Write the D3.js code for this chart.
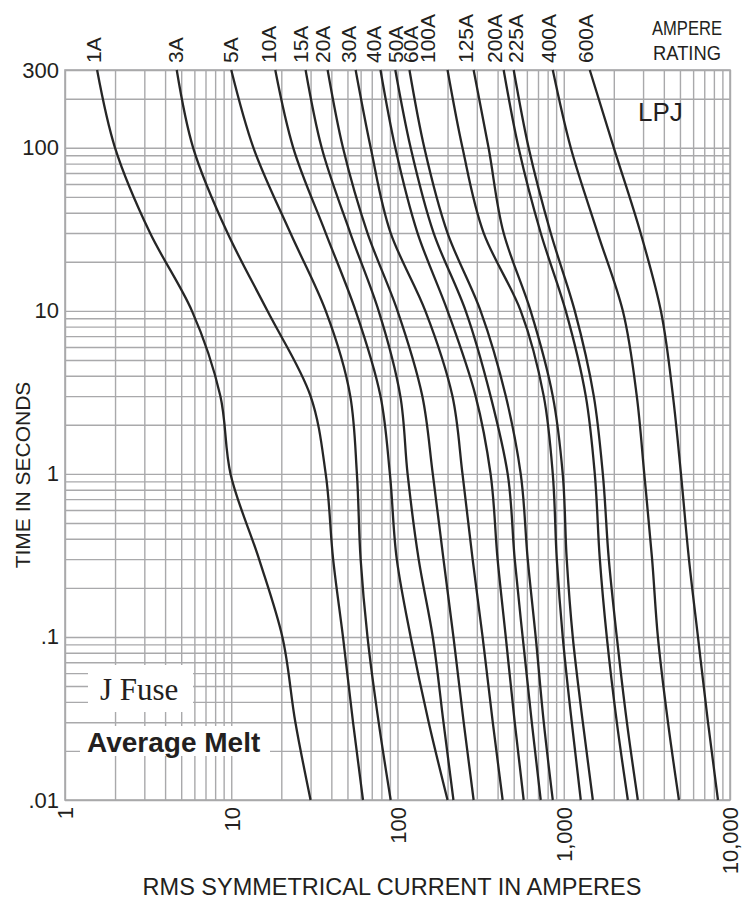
<!DOCTYPE html>
<html>
<head>
<meta charset="utf-8">
<script src="https://cdn.jsdelivr.net/npm/d3@7"></script>
<style>
body { margin: 0; background: #fff; }
text { font-family: "Liberation Sans", Arial, sans-serif; fill: #231f20; }
</style>
</head>
<body>
<div id="svg-container"></div>
<script>
// melt times (s) at which each curve was read
const times = [300, 100, 30, 10, 3, 1, 0.3, 0.1, 0.03, 0.01];

const ratings = ["1A", "3A", "5A", "10A", "15A", "20A", "30A", "40A", "50A", "60A",
                 "100A", "125A", "200A", "225A", "400A", "600A"];

// current (A) at each of the times above
const amps1A   = [1.56, 2.0, 3.25, 5.8, 8.6, 9.9, 14.7, 20.3, 24.3, 30];
const amps3A   = [4.7, 5.9, 9.5, 16.5, 30, 37, 41, 47, 54, 62];
const amps5A   = [10, 13.6, 22.7, 37, 52, 57, 60, 66, 77, 91];
const amps10A  = [18.4, 23.6, 37, 56, 79, 90, 99, 120, 154, 200];
const amps15A  = [28, 35, 52, 77, 104, 115, 134, 163, 189, 217];
const amps20A  = [38, 47, 66, 100, 141, 163, 189, 217, 250, 287];
const amps30A  = [56, 69, 91, 147, 214, 246, 283, 325, 374, 429];
const amps40A  = [79, 97, 132, 200, 295, 363, 400, 448, 507, 574];
const amps50A  = [97, 120, 165, 257, 363, 460, 507, 566, 642, 727];
const amps60A  = [118, 145, 200, 316, 448, 551, 607, 678, 758, 859];
const amps100A = [200, 246, 330, 551, 758, 859, 908, 986, 1117, 1266];
const amps125A = [287, 353, 435, 632, 859, 986, 1042, 1133, 1302, 1496];
const amps200A = [435, 535, 727, 1028, 1357, 1537, 1648, 1815, 2085, 2430];
const amps225A = [500, 615, 835, 1165, 1516, 1718, 1866, 2085, 2397, 2790];
const amps400A = [859, 1102, 1600, 2266, 2750, 3050, 3400, 3683, 4234, 4930];
const amps600A = [1434, 2001, 2900, 3838, 4539, 5070, 5663, 6416, 7370, 8465];

const curves = [amps1A, amps3A, amps5A, amps10A, amps15A, amps20A, amps30A, amps40A,
                amps50A, amps60A, amps100A, amps125A, amps200A, amps225A, amps400A, amps600A];

// current under which each rating label stands at the top
const labelAmps = [1.48, 4.6, 9.9, 16.7, 26, 35.3, 50.7, 72, 97, 120, 152, 257, 384, 514, 812, 1357];

const xTicks = [1, 10, 100, 1000, 10000];
const xTickLabels = ["1", "10", "100", "1,000", "10,000"];
const yTicks = [300, 100, 10, 1, 0.1, 0.01];
const yTickLabels = ["300", "100", "10", "1", ".1", ".01"];

const w = 743;
const h = 900;
const plotL = 65, plotR = 730, plotT = 70, plotB = 800;
const gridColor = "#a9a9ab";

const xScale = d3.scaleLog().domain([1, 10000]).range([plotL, plotR]);
const yScale = d3.scaleLog().domain([0.01, 300]).range([plotB, plotT]);

// log grid: 1..9 of every decade
let xGrid = [];
for (let k = 0; k < 4; k++) for (let m = 1; m < 10; m++) xGrid.push(m * Math.pow(10, k));
xGrid.push(10000);
let yGrid = [];
for (let k = -2; k < 2; k++) for (let m = 1; m < 10; m++) yGrid.push(+(m * Math.pow(10, k)).toPrecision(3));
yGrid.push(100, 200, 300);

const svg = d3.select("#svg-container")
    .append("svg")
    .attr("width", w)
    .attr("height", h);

svg.append("g")
    .attr("transform", "translate(0," + plotB + ")")
    .call(d3.axisBottom(xScale).tickValues(xGrid).tickSize(-(plotB - plotT)).tickFormat(""))
    .call(g => g.select(".domain").remove())
    .call(g => g.selectAll("line").attr("stroke", gridColor).attr("stroke-width", 1.4));

svg.append("g")
    .attr("transform", "translate(" + plotL + ",0)")
    .call(d3.axisLeft(yScale).tickValues(yGrid).tickSize(-(plotR - plotL)).tickFormat(""))
    .call(g => g.select(".domain").remove())
    .call(g => g.selectAll("line").attr("stroke", gridColor).attr("stroke-width", 1.4));

svg.append("rect")
    .attr("x", plotL).attr("y", plotT)
    .attr("width", plotR - plotL).attr("height", plotB - plotT)
    .attr("fill", "none").attr("stroke", gridColor).attr("stroke-width", 1.6);

// white boxes behind the two notes
svg.append("rect").attr("x", 88).attr("y", 665).attr("width", 105).attr("height", 47).attr("fill", "#fff");
svg.append("rect").attr("x", 80).attr("y", 726).attr("width", 190).attr("height", 30).attr("fill", "#fff");

const line = d3.line()
    .x(d => xScale(d[0]))
    .y(d => yScale(d[1]))
    .curve(d3.curveMonotoneY);

svg.selectAll("path.curve")
    .data(curves)
    .enter()
    .append("path")
    .attr("class", "curve")
    .attr("d", c => line(c.map((a, i) => [a, times[i]])))
    .attr("fill", "none")
    .attr("stroke", "#262626")
    .attr("stroke-width", 2.3);

// tick labels
svg.append("g")
    .attr("transform", "translate(" + plotL + ",0)")
    .call(d3.axisLeft(yScale).tickValues(yTicks).tickSize(0).tickPadding(6)
        .tickFormat((d, i) => yTickLabels[i]))
    .call(g => g.select(".domain").remove())
    .call(g => g.selectAll("text").style("font-size", "22px").attr("fill", "#231f20"));

svg.append("g")
    .attr("transform", "translate(0," + plotB + ")")
    .call(d3.axisBottom(xScale).tickValues(xTicks).tickSize(0)
        .tickFormat((d, i) => xTickLabels[i]))
    .call(g => g.select(".domain").remove())
    .call(g => g.selectAll("text")
        .style("font-size", "22px")
        .attr("fill", "#231f20")
        .attr("transform", "rotate(-90)")
        .attr("text-anchor", "end")
        .attr("x", -7)
        .attr("y", 0)
        .attr("dy", "0.36em"));

// rating labels above the curves
svg.selectAll("text.rating")
    .data(ratings)
    .enter()
    .append("text")
    .attr("class", "rating")
    .attr("transform", (d, i) => "translate(" + xScale(labelAmps[i]) + ",63) rotate(-90)")
    .attr("dy", "0.36em")
    .style("font-size", "21px")
    .text(d => d);

svg.append("text").attr("x", 652).attr("y", 35).style("font-size", "20px")
    .attr("textLength", 70).attr("lengthAdjust", "spacingAndGlyphs").text("AMPERE");
svg.append("text").attr("x", 653).attr("y", 60).style("font-size", "20px")
    .attr("textLength", 68).attr("lengthAdjust", "spacingAndGlyphs").text("RATING");
svg.append("text").attr("x", 638).attr("y", 121).style("font-size", "26px").text("LPJ");

svg.append("text")
    .attr("x", 100).attr("y", 700)
    .style("font-family", "'Liberation Serif', 'Times New Roman', serif")
    .style("font-size", "31px")
    .text("J Fuse");

svg.append("text")
    .attr("x", 87).attr("y", 752)
    .style("font-size", "28px")
    .style("font-weight", "bold")
    .text("Average Melt");

svg.append("text")
    .attr("x", 392).attr("y", 895)
    .attr("text-anchor", "middle")
    .style("font-size", "23.5px")
    .text("RMS SYMMETRICAL CURRENT IN AMPERES");

svg.append("text")
    .attr("transform", "translate(30,475) rotate(-90)")
    .attr("text-anchor", "middle")
    .style("font-size", "21px")
    .text("TIME IN SECONDS");
</script>
</body>
</html>
